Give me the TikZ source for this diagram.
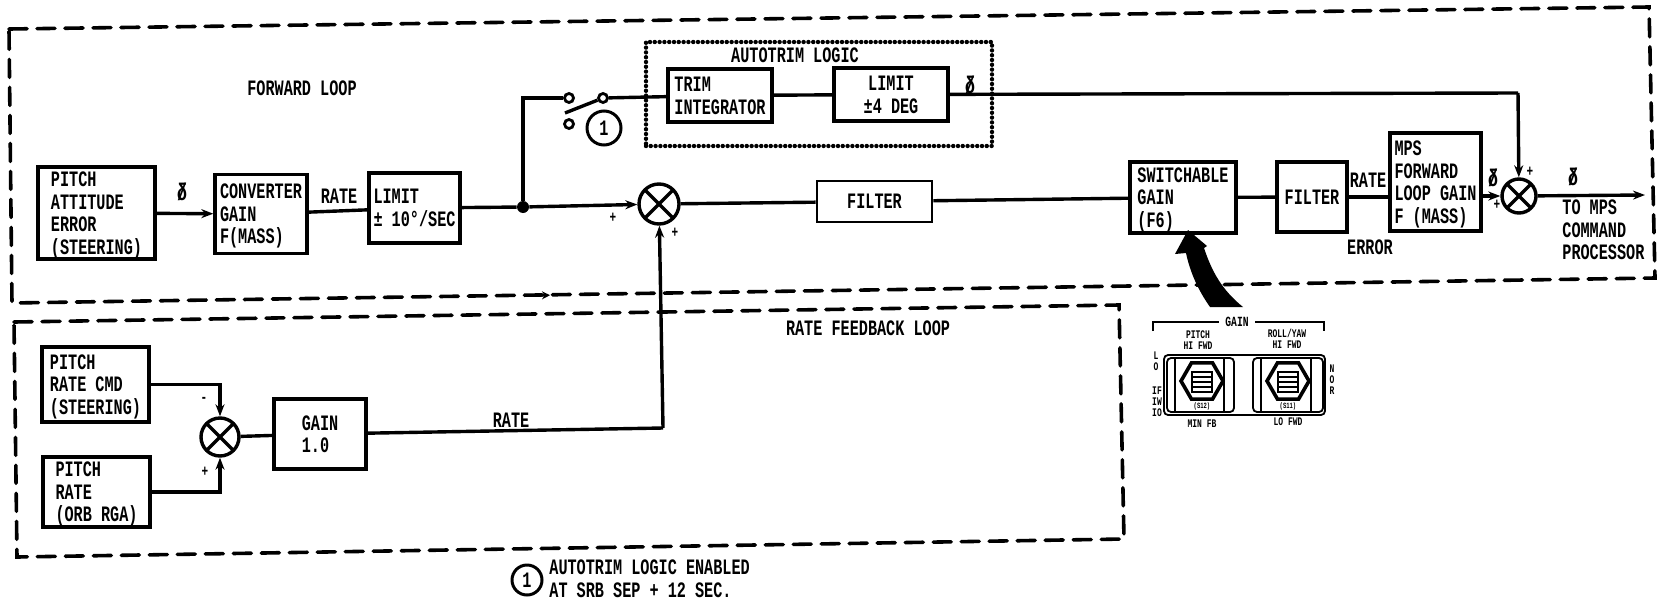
\documentclass[tikz,border=0pt]{standalone}
\usepackage{fontspec}
\usetikzlibrary{arrows.meta,shapes.geometric}
\setmainfont{Liberation Mono}[FakeStretch=0.69]
\newcommand{\labelfont}{\fontsize{11}{11.3}\selectfont\bfseries}
\newcommand{\panelfont}{\fontsize{5.8}{5.5}\selectfont\bfseries}
\newcommand{\attsym}{\rlap{δ}/}
\tikzset{
    blockbox/.style={draw,line width=1.7pt,inner sep=0pt,text depth=0pt,align=left,font=\labelfont},
    labeltext/.style={inner sep=0pt,align=left,font=\labelfont},
    paneltext/.style={inner sep=0pt,align=center,font=\panelfont},
    signtext/.style={inner sep=0pt,font=\bfseries\fontsize{8}{8}\selectfont},
    attsign/.style={inner sep=0pt,font=\bfseries\fontsize{12}{12}\selectfont},
    flowline/.style={line width=1.7pt},
    flowarrow/.style={line width=1.7pt,-{Stealth[length=6pt,width=4.5pt]}},
    loopline/.style={line width=1.8pt,line cap=round,dash pattern=on 9pt off 5pt},
    panelline/.style={line width=0.9pt},
    sumnode/.style={circle,draw,line width=1.7pt,inner sep=0pt,path picture={
        \draw[line width=1.7pt] (path picture bounding box.north west) -- (path picture bounding box.south east);
        \draw[line width=1.7pt] (path picture bounding box.north east) -- (path picture bounding box.south west);}},
    contact/.style={circle,draw,line width=1.4pt,minimum size=4.5pt,inner sep=0pt},
    notecircle/.style={circle,draw,line width=1.5pt,inner sep=0pt,font=\labelfont},
    hexswitch/.style={regular polygon,regular polygon sides=6,draw,line width=1.8pt,minimum size=21pt,inner sep=0pt}
}

\begin{document}
\begin{tikzpicture}[x=0.5pt,y=-0.5pt]
    \useasboundingbox (0,0) rectangle (1663,605);

    % Loop frames
    \coordinate (FwdNW) at (9,29);
    \coordinate (FwdNE) at (1649,7);
    \coordinate (FwdSE) at (1655,278);
    \coordinate (FwdSW) at (12,303);
    \draw[loopline] (FwdNW) -- (FwdNE) -- (FwdSE) -- (FwdSW) -- cycle;
    \coordinate (RateNW) at (14,322);
    \coordinate (RateNE) at (1119,305);
    \coordinate (RateSE) at (1124,539);
    \coordinate (RateSW) at (17,557);
    \draw[loopline] (RateNW) -- (RateNE) -- (RateSE) -- (RateSW) -- cycle;
    \node[labeltext] at (302,88) (FwdTitle) {FORWARD LOOP};
    \node[labeltext] at (868,328) (RateTitle) {RATE FEEDBACK LOOP};
    \coordinate (TickA) at (530,295.5);
    \coordinate (TickB) at (550,295.2);
    \draw[line width=1.2pt,-{Stealth[length=4pt,width=4pt]}] (TickA) -- (TickB);

    % Forward path
    \node[blockbox,minimum width=58.5pt,minimum height=46pt] at (96.5,213) (PitchErr) {PITCH\\ATTITUDE\\ERROR\\(STEERING)};
    \node[blockbox,minimum width=46pt,minimum height=39.5pt] at (261,214) (ConvGain) {CONVERTER\\GAIN\\F(MASS)};
    \node[blockbox,minimum width=45.5pt,minimum height=35pt] at (414.5,208) (LimitRate) {LIMIT\\± 10°/SEC};
    \node[circle,fill,minimum size=6pt,inner sep=0pt] at (523,207) (Junc) {};
    \node[sumnode,minimum size=20pt] at (659,204) (SumA) {};
    \node[blockbox,line width=1.3pt,minimum width=57.5pt,minimum height=20.5pt] at (874.5,201.5) (FilterA) {FILTER};
    \node[blockbox,minimum width=53pt,minimum height=35.5pt] at (1183,197.5) (SwGain) {SWITCHABLE\\GAIN\\(F6)};
    \node[blockbox,minimum width=35pt,minimum height=35pt] at (1312,197) (FilterB) {FILTER};
    \node[blockbox,minimum width=45.5pt,minimum height=49pt] at (1435.5,182) (MpsGain) {MPS\\FORWARD\\LOOP GAIN\\F (MASS)};
    \node[sumnode,minimum size=17pt] at (1519,196) (SumC) {};
    \coordinate (CmdOut) at (1645,195);

    \draw[flowarrow] (PitchErr) -- (ConvGain);
    \draw[flowline] (ConvGain) -- (LimitRate);
    \draw[flowline] (LimitRate) -- (Junc);
    \draw[flowarrow] (Junc) -- (SumA);
    \draw[flowline] (SumA) -- (FilterA);
    \draw[flowline] (FilterA) -- (SwGain);
    \draw[flowline] (SwGain) -- (FilterB);
    \draw[flowline] (FilterB.east) -- (FilterB.east -| MpsGain.west);
    \draw[flowarrow] (MpsGain.east |- SumC) -- (SumC);
    \draw[flowarrow] (SumC) -- (CmdOut);

    \node[labeltext] at (339,196) (RateA) {RATE};
    \node[labeltext] at (1368,180) (RateB) {RATE};
    \node[labeltext] at (1370,247) (ErrorLabel) {ERROR};
    \node[labeltext,anchor=west] at (1562,230) (ToMps) {TO MPS\\COMMAND\\PROCESSOR};

    % Autotrim logic
    \node[draw,line width=2.2pt,line cap=round,dash pattern=on 0pt off 2.4pt,minimum width=173pt,minimum height=52pt,inner sep=0pt] at (819,94) (TrimFrame) {};
    \node[labeltext] at (795,55) (TrimTitle) {AUTOTRIM LOGIC};
    \node[blockbox,minimum width=52pt,minimum height=26.5pt] at (720,95.5) (TrimInt) {TRIM\\INTEGRATOR};
    \node[blockbox,align=center,minimum width=57pt,minimum height=26.5pt] at (891,94.5) (LimitTrim) {LIMIT\\±4 DEG};
    \node[contact] at (569,98) (SwA) {};
    \node[contact] at (603,98) (SwB) {};
    \node[contact] at (569,124) (SwC) {};
    \coordinate (BladeEnd) at (565,113);
    \node[notecircle,minimum size=17pt] at (604,128) (NoteA) {1};
    \coordinate (TrimTurn) at (1518,93);

    \draw[flowline] (Junc) -- (Junc |- SwA) -- (SwA);
    \draw[flowline] (BladeEnd) -- (SwB);
    \draw[flowline] (SwB) -- (TrimInt);
    \draw[flowline] (TrimInt) -- (LimitTrim);
    \draw[flowline] (LimitTrim) -- (TrimTurn);
    \draw[flowarrow] (TrimTurn) -- (SumC);

    % Rate feedback
    \node[blockbox,minimum width=53.5pt,minimum height=37.5pt] at (95.5,384.5) (RateCmd) {PITCH\\RATE CMD\\(STEERING)};
    \node[blockbox,minimum width=53.5pt,minimum height=35pt] at (96.5,492) (RateOrb) {PITCH\\RATE\\(ORB RGA)};
    \node[sumnode,minimum size=19pt] at (220,437) (SumB) {};
    \node[blockbox,minimum width=46pt,minimum height=35pt] at (320,434) (GainOne) {GAIN\\1.0};
    \coordinate (RateTurn) at (663,428);

    \draw[flowarrow] (RateCmd.east) -- (RateCmd.east -| SumB) -- (SumB);
    \draw[flowarrow] (RateOrb.east) -- (RateOrb.east -| SumB) -- (SumB);
    \draw[flowline] (SumB) -- (GainOne);
    \draw[flowline] (GainOne) -- (RateTurn);
    \draw[flowarrow] (RateTurn) -- (SumA);
    \node[labeltext] at (511,420) (RateC) {RATE};

    % Signs
    \node[attsign] at (182,192) (AttA) {\attsym};
    \node[attsign] at (970,85) (AttB) {\attsym};
    \node[attsign] at (1493,178) (AttC) {\attsym};
    \node[attsign] at (1573,177) (AttD) {\attsym};
    \node[signtext] at (613,218) (PlusA) {+};
    \node[signtext] at (675,233) (PlusB) {+};
    \node[signtext] at (204,400) (MinusC) {-};
    \node[signtext] at (205,472) (PlusC) {+};
    \node[signtext] at (1530,172) (PlusD) {+};
    \node[signtext] at (1497,205) (PlusE) {+};

    % Gain panel
    \fill (1188,230) -- (1207,246) -- (1204,248) .. controls (1212,272) and (1222,290) .. (1243,307) -- (1210,307) .. controls (1198,290) and (1190,272) .. (1186,253) -- (1175,254) -- cycle;
    \node[paneltext,inner xsep=3pt,font=\fontsize{7}{7}\selectfont\bfseries] at (1237,322) (GainTitle) {GAIN};
    \coordinate (BrkA) at (1153,331);
    \coordinate (BrkB) at (1153,322);
    \coordinate (BrkC) at (1324,322);
    \coordinate (BrkD) at (1324,331);
    \draw[panelline] (BrkA) -- (BrkB) -- (GainTitle.west);
    \draw[panelline] (GainTitle.east) -- (BrkC) -- (BrkD);
    \node[paneltext] at (1198,340) (PitchSw) {PITCH\\HI FWD};
    \node[paneltext] at (1287,339) (RollSw) {ROLL/YAW\\HI FWD};
    \node[draw,panelline,rounded corners=2pt,minimum width=80.5pt,minimum height=30pt,inner sep=0pt] at (1244.5,385) (PanelFrame) {};
    \node[draw,panelline,rounded corners=2pt,minimum width=33.5pt,minimum height=27pt,inner sep=0pt] at (1200.5,385) (PanelL) {};
    \node[draw,panelline,rounded corners=2pt,minimum width=35pt,minimum height=27pt,inner sep=0pt] at (1288,385) (PanelR) {};
    \draw[panelline] (1175,358) -- (1175,412);
    \draw[panelline] (1224,358) -- (1224,412);
    \draw[panelline] (1261,358) -- (1261,412);
    \draw[panelline] (1311,358) -- (1311,412);
    \node[hexswitch] at (1202,381) (HexL) {};
    \node[hexswitch] at (1288,381) (HexR) {};
    \draw[panelline] (1192,372) rectangle (1212,392);
    \draw[panelline] (1192,377) -- (1212,377);
    \draw[panelline] (1192,382) -- (1212,382);
    \draw[panelline] (1192,387) -- (1212,387);
    \draw[panelline] (1278,372) rectangle (1298,392);
    \draw[panelline] (1278,377) -- (1298,377);
    \draw[panelline] (1278,382) -- (1298,382);
    \draw[panelline] (1278,387) -- (1298,387);
    \node[paneltext,font=\fontsize{4}{4}\selectfont\bfseries] at (1202,406) (TagL) {(S12)};
    \node[paneltext,font=\fontsize{4}{4}\selectfont\bfseries] at (1288,406) (TagR) {(S11)};
    \node[paneltext] at (1202,424) (MinFb) {MIN FB};
    \node[paneltext] at (1288,422) (LoFwd) {LO FWD};
    \node[paneltext] at (1156,361) (SideA) {L\\O};
    \node[paneltext] at (1157,402) (SideB) {IF\\IW\\IO};
    \node[paneltext] at (1332,380) (SideC) {N\\O\\R};

    % Note
    \node[notecircle,minimum size=15pt] at (527,580) (NoteB) {1};
    \node[labeltext,anchor=west] at (549,579) (NoteText) {AUTOTRIM LOGIC ENABLED\\AT SRB SEP + 12 SEC.};

\end{tikzpicture}
\end{document}
